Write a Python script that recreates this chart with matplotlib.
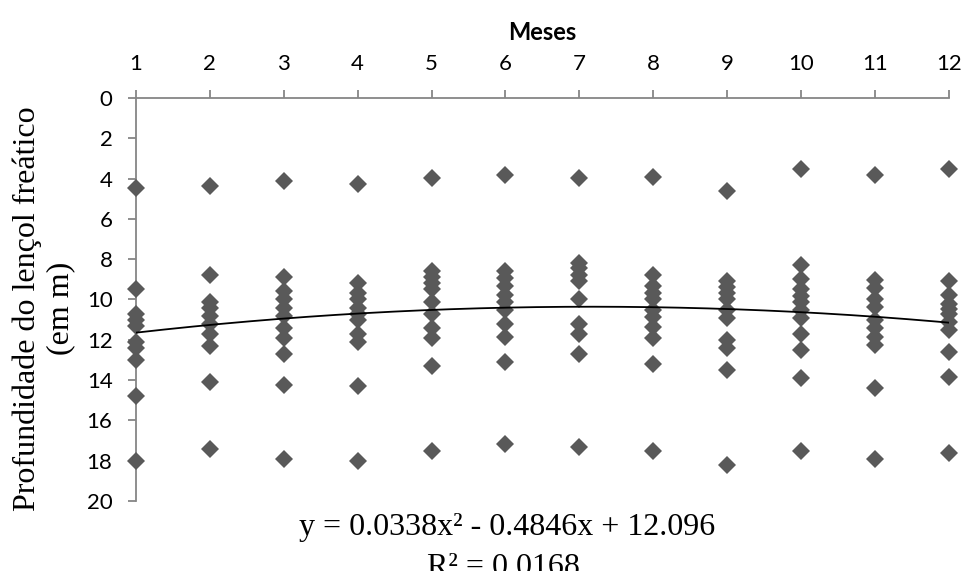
import matplotlib.pyplot as plt
import numpy as np

# depth readings (m) per month
meses = list(range(1, 13))
m01 = [4.45, 9.5, 10.7, 11.0, 11.3, 12.1, 12.4, 13.0, 14.8, 18.0]
m02 = [4.35, 8.8, 10.1, 10.4, 10.8, 11.2, 11.7, 12.3, 14.1, 17.4]
m03 = [4.1, 8.9, 9.6, 10.0, 10.4, 10.8, 11.4, 11.9, 12.7, 14.25, 17.9]
m04 = [4.25, 9.2, 9.7, 10.0, 10.4, 10.7, 11.0, 11.7, 12.1, 14.3, 18.0]
m05 = [3.95, 8.6, 8.9, 9.2, 9.5, 10.1, 10.7, 11.4, 11.9, 13.3, 17.5]
m06 = [3.8, 8.6, 8.95, 9.35, 9.8, 10.1, 10.5, 11.2, 11.85, 13.1, 17.15]
m07 = [3.95, 8.2, 8.45, 8.8, 9.1, 10.0, 11.2, 11.7, 12.7, 17.3]
m08 = [3.9, 8.8, 9.35, 9.7, 10.0, 10.5, 10.85, 11.35, 11.9, 13.2, 17.5]
m09 = [4.6, 9.1, 9.4, 9.7, 10.0, 10.5, 10.9, 12.0, 12.4, 13.5, 18.2]
m10 = [3.5, 8.3, 9.0, 9.5, 9.85, 10.1, 10.5, 10.9, 11.7, 12.5, 13.9, 17.5]
m11 = [3.8, 9.05, 9.45, 10.0, 10.35, 11.0, 11.4, 11.85, 12.25, 14.4, 17.9]
m12 = [3.5, 9.1, 9.8, 10.2, 10.45, 10.7, 11.1, 11.5, 12.6, 13.85, 17.6]
profundidade = [m01, m02, m03, m04, m05, m06, m07, m08, m09, m10, m11, m12]

# trendline coefficients as printed on the chart
coef = [0.0338, -0.4846, 12.096]

fig = plt.figure(figsize=(9.65, 5.71), dpi=100)
ax = fig.add_axes([0.141, 0.1226, 0.842, 0.7058])

for m, vals in zip(meses, profundidade):
    ax.plot([m] * len(vals), vals, linestyle='none', marker='D', markersize=9.5,
            color='#595959', markeredgewidth=0, clip_on=False, zorder=3)

xs = np.linspace(1, 12, 200)
ax.plot(xs, np.polyval(coef, xs), color='black', linewidth=1.3, zorder=4)

ax.set_xlim(1, 12)
ax.set_ylim(20, 0)
ax.set_xticks(meses)
ax.set_yticks(range(0, 21, 2))
ax.xaxis.tick_top()
ax.xaxis.set_label_position('top')

for s in ['right', 'bottom']:
    ax.spines[s].set_visible(False)
for s in ['left', 'top']:
    ax.spines[s].set_color('#868686')
    ax.spines[s].set_linewidth(1.3)

ax.tick_params(axis='both', direction='out', length=6, width=1.3, color='#868686',
               labelsize=16)
ax.tick_params(axis='x', pad=11)
ax.tick_params(axis='y', pad=11)
for lbl in ax.get_xticklabels() + ax.get_yticklabels():
    lbl.set_family('Lato')

ax.set_xlabel('Meses', fontsize=17, fontweight='bold', family='Lato', labelpad=10)

fig.text(0.0456, 0.46, 'Profundidade do lençol freático\n(em m)', rotation=90,
         ha='center', va='center', multialignment='center', fontsize=23,
         family='Liberation Serif', linespacing=1.2)

fig.text(0.526, 0.063, 'y = 0.0338x² - 0.4846x + 12.096', ha='center', va='baseline',
         fontsize=23, family='Liberation Serif')
fig.text(0.522, -0.007, 'R² = 0.0168', ha='center', va='baseline',
         fontsize=23, family='Liberation Serif')

plt.savefig('out.png', dpi=100)
